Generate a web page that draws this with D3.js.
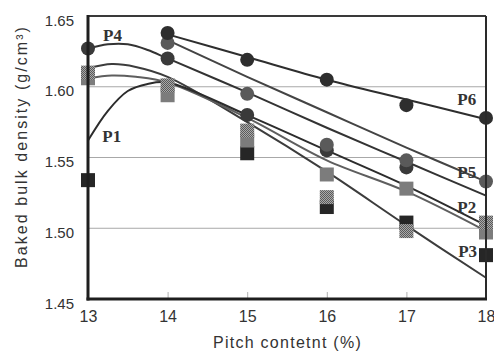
<!DOCTYPE html>
<html>
<head>
<meta charset="utf-8">
<script src="https://cdn.jsdelivr.net/npm/d3@7"></script>
<style>
  body { margin: 0; background: #fff; }
  svg { display: block; font-family: "Liberation Sans", Arial, sans-serif; }
</style>
</head>
<body>
<svg width="494" height="354"></svg>
<script>
const xTicks = [13, 14, 15, 16, 17, 18];
const yTicks = [1.45, 1.50, 1.55, 1.60, 1.65];
const gridValues = [1.50, 1.55, 1.60];
const xTitle = 'Pitch contetnt (%)';
const yTitle = 'Baked bulk density (g/cm³)';

// fitted curves: [pitch %, density]
const fitP1 = [[13, 1.562], [13.25, 1.583], [13.5, 1.597], [13.75, 1.602], [14, 1.603], [15, 1.580], [16, 1.555], [17, 1.530], [18, 1.502]];
const fitP2 = [[13, 1.606], [13.3, 1.608], [13.6, 1.607], [14, 1.603], [15, 1.578], [16, 1.548], [17, 1.526], [18, 1.498]];
const fitP3 = [[13, 1.613], [13.3, 1.616], [13.6, 1.614], [14, 1.607], [15, 1.575], [16, 1.540], [17, 1.502], [18, 1.465]];
const fitP4 = [[13, 1.627], [13.25, 1.630], [13.5, 1.630], [13.75, 1.626], [14, 1.620], [15, 1.596], [16, 1.571], [17, 1.547], [18, 1.523]];
const fitP5 = [[14, 1.633], [15, 1.607], [16, 1.582], [17, 1.557], [18, 1.533]];
const fitP6 = [[14, 1.637], [15, 1.621], [16, 1.605], [17, 1.591], [18, 1.577]];

// measured points
const squaresP1 = [[13, 1.534], [15, 1.553], [16, 1.515], [17, 1.504], [18, 1.481]];
const squaresP2 = [[13, 1.606], [14, 1.594], [15, 1.562], [16, 1.538], [17, 1.528], [18, 1.497]];
const squaresP3 = [[13, 1.610], [14, 1.601], [15, 1.569], [16, 1.522], [17, 1.498], [18, 1.504]];
const circlesP4 = [[13, 1.627], [14, 1.620], [15, 1.580], [16, 1.555], [17, 1.543]];
const circlesP5 = [[14, 1.631], [15, 1.595], [16, 1.559], [17, 1.548], [18, 1.533]];
const circlesP6 = [[14, 1.638], [15, 1.619], [16, 1.605], [17, 1.587], [18, 1.578]];

// series names and where their labels sit (data units)
const seriesNames = ['P1', 'P2', 'P3', 'P4', 'P5', 'P6'];
const labelAt = [[13.18, 1.561], [17.64, 1.511], [17.65, 1.480], [13.19, 1.632], [17.64, 1.5355], [17.64, 1.587]];

const svg = d3.select('svg');
const margin = { top: 16, right: 8, bottom: 55, left: 88 };
const width = +svg.attr('width') - margin.left - margin.right;
const height = +svg.attr('height') - margin.top - margin.bottom;

const x = d3.scaleLinear().domain([13, 18]).range([0, width]);
const y = d3.scaleLinear().domain([1.45, 1.65]).range([height, 0]);

// halftone fill for the dotted squares
const pat = svg.append('defs').append('pattern')
    .attr('id', 'dots').attr('width', 2).attr('height', 2)
    .attr('patternUnits', 'userSpaceOnUse');
pat.append('rect').attr('width', 2).attr('height', 2).attr('fill', '#a9a9a9');
pat.append('rect').attr('width', 1).attr('height', 1).attr('fill', '#5a5a5a');
pat.append('rect').attr('x', 1).attr('y', 1).attr('width', 1).attr('height', 1).attr('fill', '#5a5a5a');

const g = svg.append('g').attr('transform', `translate(${margin.left},${margin.top})`);

// grid lines
g.selectAll('.grid').data(gridValues).enter().append('line')
    .attr('x1', 0).attr('x2', width)
    .attr('y1', d => y(d)).attr('y2', d => y(d))
    .attr('stroke', '#a8a8a8').attr('stroke-width', 1);

// fitted curves
const line = d3.line()
    .x(d => x(d[0]))
    .y(d => y(d[1]))
    .curve(d3.curveCatmullRom.alpha(0.5));

const fits = [
  [fitP3, '#3c3c3c'],
  [fitP2, '#5e5e5e'],
  [fitP1, '#2c2c2c'],
  [fitP4, '#333333'],
  [fitP5, '#444444'],
  [fitP6, '#2e2e2e']
];
fits.forEach(([data, color]) => {
  g.append('path')
      .datum(data)
      .attr('d', line)
      .attr('fill', 'none')
      .attr('stroke', color)
      .attr('stroke-width', 2);
});

// square markers
const SQ = 14;
const squares = [[squaresP1, '#262626'], [squaresP2, '#7c7c7c'], [squaresP3, 'url(#dots)']];
squares.forEach(([data, fill]) => {
  g.selectAll(null).data(data).enter().append('rect')
      .attr('x', d => x(d[0]) - SQ / 2)
      .attr('y', d => y(d[1]) - SQ / 2)
      .attr('width', SQ).attr('height', SQ)
      .attr('fill', fill);
});

// circle markers
const circles = [[circlesP4, '#3a3a3a'], [circlesP5, '#5a5a5a'], [circlesP6, '#2e2e2e']];
circles.forEach(([data, fill]) => {
  g.selectAll(null).data(data).enter().append('circle')
      .attr('cx', d => x(d[0]))
      .attr('cy', d => y(d[1]))
      .attr('r', 7)
      .attr('fill', fill);
});

// axes
const xAxis = g.append('g')
    .attr('transform', `translate(0,${height})`)
    .call(d3.axisBottom(x).tickValues(xTicks).tickFormat(d3.format('d')).tickSize(-7).tickPadding(12));
xAxis.select('.domain').remove();
xAxis.selectAll('line').attr('stroke', '#b0b0b0');
xAxis.selectAll('text').attr('font-size', 16).attr('fill', '#333').attr('font-family', '"Liberation Sans", Arial, sans-serif');

const yAxis = g.append('g')
    .call(d3.axisLeft(y).tickValues(yTicks).tickFormat(d3.format('.2f')).tickSize(0).tickPadding(14));
yAxis.select('.domain').remove();
yAxis.selectAll('text').attr('font-size', 15).attr('fill', '#333').attr('dy', '0.6em')
    .attr('font-family', '"Liberation Sans", Arial, sans-serif');

// frame: thin top/right, heavy left/bottom
g.append('line').attr('x1', 0).attr('x2', width).attr('y1', 0).attr('y2', 0)
    .attr('stroke', '#3a3a3a').attr('stroke-width', 2);
g.append('line').attr('x1', width).attr('x2', width).attr('y1', 0).attr('y2', height)
    .attr('stroke', '#2a2a2a').attr('stroke-width', 2);
g.append('line').attr('x1', 0).attr('x2', 0).attr('y1', -1).attr('y2', height + 1.5)
    .attr('stroke', '#1e1e1e').attr('stroke-width', 3);
g.append('line').attr('x1', -1.5).attr('x2', width + 1).attr('y1', height).attr('y2', height)
    .attr('stroke', '#1e1e1e').attr('stroke-width', 3);

// series labels
g.selectAll('.plabel').data(seriesNames).enter().append('text')
    .attr('x', (d, i) => x(labelAt[i][0]))
    .attr('y', (d, i) => y(labelAt[i][1]))
    .attr('font-family', '"Liberation Serif", "Times New Roman", serif')
    .attr('font-weight', 'bold')
    .attr('font-size', 17)
    .attr('fill', '#333')
    .text(d => d);

// stretch a title with letter-spacing so it covers a given length
function fitText(sel, len) {
  const n = sel.text().length;
  const w0 = sel.node().getComputedTextLength();
  sel.attr('letter-spacing', (len - w0) / n);
}

// axis titles
const xt = svg.append('text')
    .attr('x', 213)
    .attr('y', 348)
    .attr('font-size', 16)
    .attr('fill', '#333')
    .text(xTitle);
fitText(xt, 149);

const yt = svg.append('text')
    .attr('transform', 'translate(27,268) rotate(-90)')
    .attr('font-size', 16)
    .attr('fill', '#333')
    .text(yTitle);
fitText(yt, 243);
</script>
</body>
</html>
